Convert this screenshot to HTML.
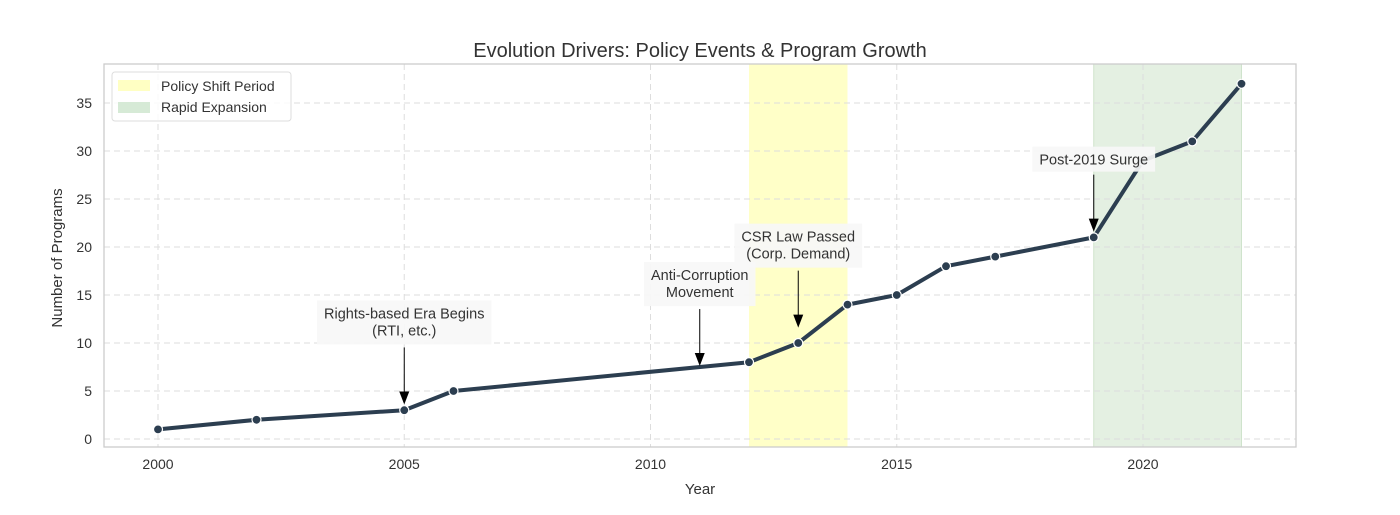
<!DOCTYPE html>
<html><head><meta charset="utf-8"><style>
body{margin:0;background:#fff;font-family:"Liberation Sans",sans-serif}
svg text{font-family:"Liberation Sans",sans-serif;fill:#333}
</style></head><body>
<svg id="svg" width="1400" height="510" viewBox="0 0 1400 510">
<g id="bands"></g><g id="grid"></g>
<rect x="104" y="64" width="1192" height="383" fill="none" stroke="#ccc" stroke-width="1.3"/>
<g id="ticks"></g>
<g id="series"></g>
<g id="annots"></g>
<text x="700" y="57" text-anchor="middle" font-size="20">Evolution Drivers: Policy Events &amp; Program Growth</text>
<text x="700" y="494" text-anchor="middle" font-size="15">Year</text>
<text x="62" y="258" text-anchor="middle" font-size="15" transform="rotate(-90 62 258)">Number of Programs</text>
<g>
<rect x="112" y="72" width="179" height="49" rx="3" fill="#fff" fill-opacity="0.85" stroke="#ddd"/>
<rect x="118" y="80" width="32" height="11" fill="#ffffaa" fill-opacity="0.7"/>
<text x="161" y="91" font-size="14">Policy Shift Period</text>
<rect x="118" y="102" width="32" height="11" fill="#d6ead6"/>
<text x="161" y="112" font-size="14">Rapid Expansion</text>
</g>
</svg>
<script>
const years=[2000,2002,2005,2006,2012,2013,2014,2015,2016,2017,2019,2020,2021,2022];
const programs=[1,2,3,5,8,10,14,15,18,19,21,29,31,37];
const xTicks=[2000,2005,2010,2015,2020];
const yTicks=[0,5,10,15,20,25,30,35];
const bandPolicy=[2012,2014];
const bandExpansion=[2019,2022];
const annotYears=[2005,2011,2013,2019];
const annotValues=[3.6,7.6,11.6,21.6];
const annotLabels=[["Rights-based Era Begins","(RTI, etc.)"],["Anti-Corruption","Movement"],["CSR Law Passed","(Corp. Demand)"],["Post-2019 Surge"]];
const x=v=>158+(v-2000)*49.25;
const y=v=>439-v*9.6;
const NS="http://www.w3.org/2000/svg";
function mk(t,a,p){const e=document.createElementNS(NS,t);for(const k in a)e.setAttribute(k,a[k]);document.getElementById(p).appendChild(e);return e;}
let e;
e=mk('rect',{x:x(bandPolicy[0]),y:64,width:x(bandPolicy[1])-x(bandPolicy[0]),height:383,fill:'#ffffc8'},'bands');


e=mk('rect',{x:x(bandExpansion[0]),y:64,width:x(bandExpansion[1])-x(bandExpansion[0]),height:383,fill:'#e4f0e2'},'bands');


mk('line',{x1:x(bandExpansion[0]),x2:x(bandExpansion[0]),y1:64,y2:447,stroke:'#cfe3cc'},'bands');
mk('line',{x1:x(bandExpansion[1]),x2:x(bandExpansion[1]),y1:64,y2:447,stroke:'#cfe3cc'},'bands');
xTicks.forEach(t=>{
 e=mk('line',{x1:x(t),x2:x(t),y1:64,y2:447,stroke:'#ddd','stroke-dasharray':'6,4'},'grid');
 
 
 e=mk('text',{x:x(t),y:469,'text-anchor':'middle','font-size':14},'ticks');e.textContent=t;
 
 
});
yTicks.forEach(t=>{
 e=mk('line',{x1:104,x2:1296,y1:y(t),y2:y(t),stroke:'#ddd','stroke-dasharray':'6,4'},'grid');
 
 
 e=mk('text',{x:92,y:y(t)+5,'text-anchor':'end','font-size':14},'ticks');e.textContent=t;
 
 
});
e=mk('polyline',{points:years.map((v,i)=>x(v)+','+y(programs[i])).join(' '),fill:'none',stroke:'#2c3e50','stroke-width':4,'stroke-linejoin':'round'},'series');


years.forEach((v,i)=>{
 e=mk('circle',{cx:x(v),cy:y(programs[i]),r:4.5,fill:'#2c3e50',stroke:'#fff','stroke-width':1.2},'series');
 
 
});
annotYears.forEach((yr,i)=>{
 const ax=x(yr),ay=y(annotValues[i]);
 const lines=annotLabels[i];
 const bottom=ay-60;
 const top=bottom-(lines.length==2?44:25);
 const box=mk('rect',{y:top,height:bottom-top,fill:'#f7f7f7','fill-opacity':0.92},'annots');
 
 
 let maxw=0;
 lines.forEach((l,j)=>{
  e=mk('text',{x:ax,y:top+18+j*17,'text-anchor':'middle','font-size':14.5},'annots');e.textContent=l;
  
  
  maxw=Math.max(maxw,e.getComputedTextLength());
 });
 const w=maxw+14;
 box.setAttribute('x',ax-w/2);box.setAttribute('width',w);
 mk('line',{x1:ax,x2:ax,y1:bottom+3,y2:ay-12,stroke:'#000','stroke-width':1},'annots');
 e=mk('polygon',{points:`${ax-5},${ay-13} ${ax+5},${ay-13} ${ax},${ay}`,fill:'#000'},'annots');
 
 
});
</script>
</body></html>
